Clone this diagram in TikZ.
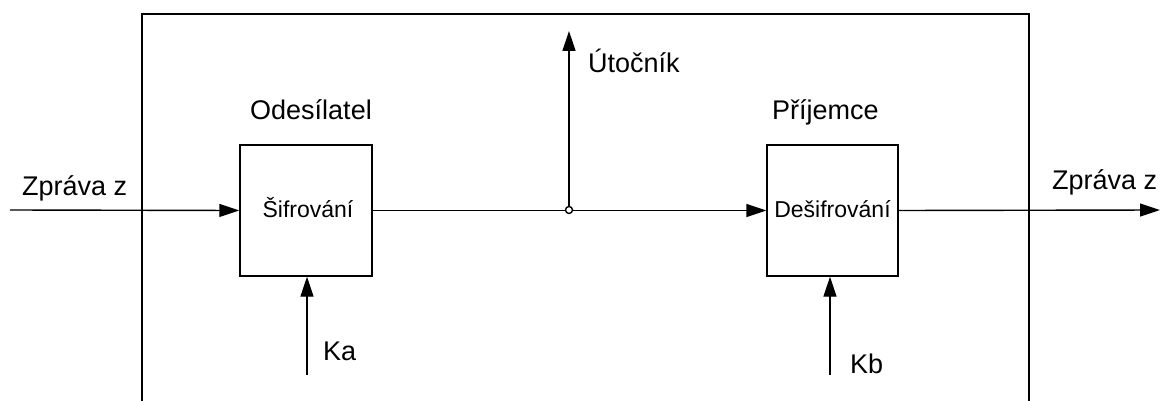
\documentclass[tikz,border=0pt]{standalone}
\usepackage{fontspec}
\setmainfont{Liberation Sans}
\usetikzlibrary{arrows.meta}
\tikzset{
  wire/.style={line width=1.4pt, draw=black},
  flow/.style={wire, -{Triangle[length=20pt,width=13pt]}},
  blockbox/.style={draw=black, line width=1.4pt, inner sep=0pt},
  biglabel/.style={inner sep=0pt, anchor=base west, font=\fontsize{27}{31}\selectfont},
  boxlabel/.style={inner sep=0pt, anchor=base, font=\fontsize{23}{27}\selectfont},
}
\begin{document}
\begin{tikzpicture}[x=1pt, y=-1pt]
  \useasboundingbox (0,0) rectangle (1161,401);
  % open frame around the communication system
  \draw[wire] (142,401) -- (142,14) -- (1029,14) -- (1029,401);

  % sender and receiver blocks
  \node[blockbox, minimum width=132pt, minimum height=131pt] (enc) at (306,210.5) {};
  \node[blockbox, minimum width=131pt, minimum height=131pt] (dec) at (832.5,210.5) {};
  \node[boxlabel] (enct) at (308,217) {Šifrování};
  \node[boxlabel] (dect) at (832.5,217) {Dešifrování};

  % free ends of the signal lines
  \coordinate (in) at (10,210);
  \coordinate (out) at (1160,210);
  \coordinate (tap) at (569,210);
  \coordinate (atk) at (569,31);
  \coordinate (ka) at (307,375);
  \coordinate (kb) at (830,375);

  % signal flow
  \draw[flow] (in) -- (enc.west);
  \draw[flow] (enc.east) -- (dec.west);
  \draw[flow] (dec.east) -- (out);
  \draw[flow] (tap) -- (atk);
  \draw[flow] (ka) -- (ka |- enc.south);
  \draw[flow] (kb) -- (kb |- dec.south);
  \filldraw[wire, fill=white] (tap) circle (3.5pt);

  % labels
  \node[biglabel] (lin) at (22,195) {Zpráva z};
  \node[biglabel] (lout) at (1052,189) {Zpráva z};
  \node[biglabel] (lsnd) at (250,120) {Odesílatel};
  \node[biglabel] (lrcv) at (772,120) {Příjemce};
  \node[biglabel] (latk) at (588,73) {Útočník};
  \node[biglabel] (lka) at (323,360) {Ka};
  \node[biglabel] (lkb) at (850,373) {Kb};
\end{tikzpicture}
\end{document}
